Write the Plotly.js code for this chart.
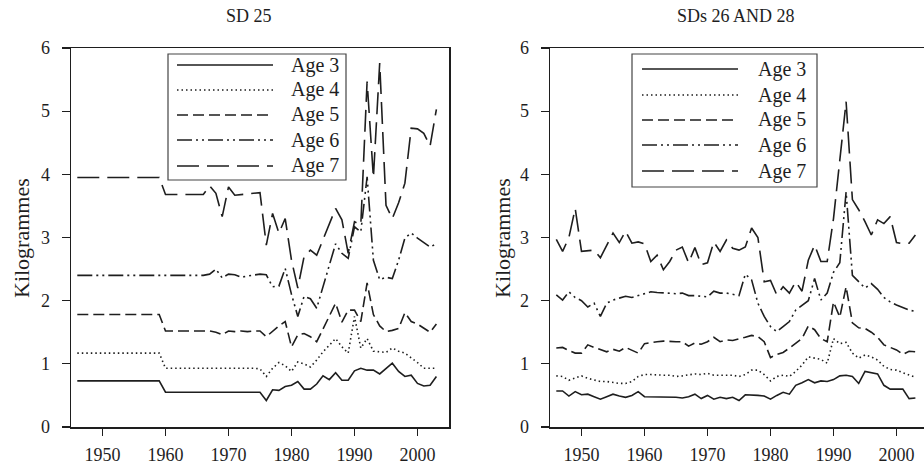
<!DOCTYPE html>
<html>
<head>
<meta charset="utf-8">
<script src="https://cdn.plot.ly/plotly-3.0.1.min.js"></script>
<style>
html,body{margin:0;padding:0;background:#fff;}
#chart{width:924px;height:470px;}
#chart svg text{font-family:"Liberation Serif","Times New Roman",Times,serif !important;}
</style>
</head>
<body>
<div id="chart"></div>
<script>
const years = [1946,1947,1948,1949,1950,1951,1952,1953,1954,1955,1956,1957,1958,1959,
  1960,1961,1962,1963,1964,1965,1966,1967,1968,1969,1970,1971,1972,1973,1974,1975,
  1976,1977,1978,1979,1980,1981,1982,1983,1984,1985,1986,1987,1988,1989,1990,1991,
  1992,1993,1994,1995,1996,1997,1998,1999,2000,2001,2002,2003];

const seriesNames = ["Age 3","Age 4","Age 5","Age 6","Age 7"];
const panelTitles = ["SD 25","SDs 26 AND 28"];
const yTitle = "Kilogrammes";
const xTicks = [1950,1960,1970,1980,1990,2000];
const yTicks = [0,1,2,3,4,5,6];

// SD 25
const sd25_age3 = [0.73,0.73,0.73,0.73,0.73,0.73,0.73,0.73,0.73,0.73,0.73,0.73,0.73,0.73,
  0.55,0.55,0.55,0.55,0.55,0.55,0.56,0.55,0.55,0.55,0.55,0.55,0.55,0.55,0.55,0.55,
  0.42,0.59,0.58,0.64,0.66,0.72,0.6,0.6,0.68,0.81,0.75,0.86,0.74,0.74,0.89,0.93,0.9,0.9,0.84,0.92,1.01,0.88,0.8,0.82,0.69,0.65,0.66,0.8];
const sd25_age4 = [1.17,1.17,1.17,1.17,1.17,1.17,1.17,1.17,1.17,1.17,1.17,1.17,1.17,1.17,
  0.93,0.93,0.93,0.93,0.93,0.93,0.93,0.93,0.93,0.93,0.94,0.94,0.93,0.93,0.93,0.92,
  0.8,0.93,1.02,0.97,0.88,1.03,1.0,0.95,1.06,1.19,1.3,1.4,1.27,1.17,1.75,1.25,1.4,1.2,1.19,1.18,1.25,1.2,1.17,1.1,1.02,0.93,0.93,0.93];
const sd25_age5 = [1.78,1.78,1.78,1.78,1.78,1.78,1.78,1.78,1.78,1.78,1.78,1.78,1.78,1.78,
  1.52,1.52,1.52,1.52,1.52,1.52,1.52,1.52,1.5,1.46,1.52,1.51,1.52,1.51,1.52,1.52,
  1.43,1.52,1.6,1.67,1.27,1.46,1.48,1.43,1.35,1.55,1.75,1.96,1.66,1.85,1.85,1.67,2.28,1.78,1.6,1.51,1.53,1.56,1.81,1.67,1.63,1.57,1.5,1.63];
const sd25_age6 = [2.4,2.4,2.4,2.4,2.4,2.4,2.4,2.4,2.4,2.4,2.4,2.4,2.4,2.4,2.4,2.4,2.4,2.4,2.4,2.4,2.4,
  2.42,2.5,2.36,2.42,2.41,2.37,2.39,2.41,2.42,2.41,
  2.22,2.23,2.51,2.1,1.75,2.07,2.03,1.88,2.22,2.55,2.9,2.75,2.67,3.17,3.09,3.96,2.64,2.33,2.37,2.35,2.64,2.99,3.07,2.99,2.92,2.85,2.9];
const sd25_age7 = [3.95,3.95,3.95,3.95,3.95,3.95,3.95,3.95,3.95,3.95,3.95,3.95,3.95,3.95,
  3.68,3.68,3.68,3.68,3.68,3.68,3.68,3.82,3.7,3.33,3.8,3.67,3.68,3.69,3.7,3.71,
  2.88,3.38,3.07,3.3,2.64,2.2,2.7,2.8,2.72,2.96,3.2,3.46,3.28,2.75,3.25,3.2,5.47,3.95,5.76,3.51,3.3,3.55,3.86,4.73,4.72,4.65,4.45,5.03];

// SDs 26 and 28
const sd2628_age3 = [0.57,0.57,0.49,0.56,0.51,0.52,0.48,0.44,0.48,0.52,0.49,0.47,0.5,0.56,
  0.48,0.48,0.47,0.48,0.48,0.47,0.46,0.48,0.52,0.45,
  0.5,0.44,0.47,0.45,0.47,0.42,0.51,0.51,0.5,0.49,
  0.44,0.5,0.55,0.52,0.66,0.7,0.75,0.7,0.73,0.72,
  0.75,0.81,0.82,0.8,0.69,0.88,0.86,0.84,0.66,0.6,
  0.6,0.6,0.45,0.46];
const sd2628_age4 = [0.81,0.8,0.74,0.78,0.81,0.77,0.74,0.72,0.72,0.7,0.69,0.69,0.72,0.8,
  0.83,0.83,0.82,0.82,0.82,0.8,0.81,0.83,0.84,0.83,
  0.85,0.82,0.82,0.81,0.82,0.8,0.83,0.9,0.9,0.83,
  0.73,0.8,0.82,0.8,0.88,0.98,1.11,1.09,1.07,1.01,
  1.4,1.32,1.34,1.17,1.09,1.14,1.11,1.06,0.96,0.91,
  0.9,0.86,0.82,0.79];
const sd2628_age5 = [1.25,1.26,1.21,1.17,1.17,1.3,1.26,1.22,1.19,1.23,1.2,1.26,1.22,1.17,
  1.32,1.34,1.35,1.36,1.35,1.35,1.35,1.28,1.33,1.31,
  1.35,1.42,1.35,1.38,1.37,1.39,1.42,1.45,1.43,1.35,
  1.1,1.15,1.18,1.25,1.32,1.4,1.6,1.54,1.4,1.35,
  1.98,1.74,2.22,1.65,1.57,1.56,1.5,1.42,1.3,1.26,
  1.22,1.15,1.2,1.19];
const sd2628_age6 = [2.09,2.01,2.14,2.05,2.0,1.9,1.96,1.75,1.96,2.01,2.04,2.07,2.05,2.08,
  2.12,2.14,2.13,2.12,2.11,2.11,2.12,2.08,2.08,2.07,
  2.06,2.15,2.12,2.12,2.1,2.08,2.42,2.33,1.96,1.75,
  1.59,1.51,1.59,1.67,1.85,1.93,2.0,2.35,2.01,2.12,
  2.45,2.6,3.72,2.4,2.3,2.2,2.27,2.18,2.05,1.98,
  1.93,1.89,1.85,1.83];
const sd2628_age7 = [2.97,2.78,3.0,3.46,2.78,2.79,2.8,2.68,2.88,3.07,2.92,3.1,2.91,2.93,
  2.9,2.62,2.72,2.49,2.62,2.8,2.85,2.6,2.84,2.57,
  2.6,2.93,2.78,2.96,2.83,2.8,2.85,3.15,3.0,2.3,
  2.32,2.09,2.22,2.12,2.3,2.15,2.64,2.88,2.62,2.62,
  3.3,4.2,5.15,3.6,3.44,3.25,3.04,3.28,3.22,3.33,
  2.92,2.9,2.91,3.04];

const W = 924, H = 470;
const px = v => v / W;
const py = v => 1 - v / H;
const ink = "#1e1e1e";
const serif = "Liberation Serif";
const dashes = ["solid", "1.5px,3px", "11px,5px", "15px,4px,2px,4px,2px,4px", "22px,8px"];
const lw = 1.6;

const panels = [
  {series:[sd25_age3,sd25_age4,sd25_age5,sd25_age6,sd25_age7], xa:"x", ya:"y"},
  {series:[sd2628_age3,sd2628_age4,sd2628_age5,sd2628_age6,sd2628_age7], xa:"x2", ya:"y2"}
];

const traces = [];
panels.forEach(p => {
  p.series.forEach((vals, i) => {
    traces.push({
      type:"scatter", mode:"lines", x:years, y:vals, name:seriesNames[i],
      xaxis:p.xa, yaxis:p.ya, showlegend:false,
      line:{color:ink, width:lw, dash:dashes[i]}
    });
  });
});

const yDom = [py(427), py(48)];
function xAxis(dom, range){
  return {domain:dom, range:range, tickvals:xTicks, ticks:"outside", ticklen:7, tickwidth:1.3,
    tickcolor:ink, showline:true, linecolor:ink, linewidth:1.5, mirror:true, showgrid:false,
    zeroline:false, tickfont:{family:serif, size:18, color:ink}, ticklabelstandoff:4, fixedrange:true};
}
function yAxis(dom, anchor){
  return {domain:dom, range:[0,6], tickvals:yTicks, ticks:"outside", ticklen:8, tickwidth:1.3,
    tickcolor:ink, showline:true, linecolor:ink, linewidth:1.5, mirror:true, showgrid:false,
    zeroline:false, tickfont:{family:serif, size:18, color:ink}, ticklabelstandoff:8, anchor:anchor, fixedrange:true};
}

const shapes = [];
const annotations = [];
annotations.push({text:panelTitles[0], x:px(249), y:py(16), xref:"paper", yref:"paper", showarrow:false,
  xanchor:"center", yanchor:"middle", font:{family:serif, size:18, color:ink}});
annotations.push({text:panelTitles[1], x:px(736), y:py(16), xref:"paper", yref:"paper", showarrow:false,
  xanchor:"center", yanchor:"middle", font:{family:serif, size:18, color:ink}});
[22, 503].forEach(xp => annotations.push({text:yTitle, x:px(xp), y:py(238), xref:"paper", yref:"paper",
  showarrow:false, textangle:-90, xanchor:"center", yanchor:"middle", font:{family:serif, size:22, color:ink}}));

const legends = [
  {box:[168,54,346,180], line:[177,273], text:289, rows:[65,90,115,140,166]},
  {box:[632,54,817,187], line:[642,738], text:756, rows:[69,95,120,145,171]}
];
legends.forEach(L => {
  shapes.push({type:"rect", xref:"paper", yref:"paper", x0:px(L.box[0]), x1:px(L.box[2]),
    y0:py(L.box[3]), y1:py(L.box[1]), line:{color:"#444", width:1.2}, fillcolor:"white", layer:"above"});
  L.rows.forEach((r, i) => {
    shapes.push({type:"line", xref:"paper", yref:"paper", x0:px(L.line[0]), x1:px(L.line[1]),
      y0:py(r), y1:py(r), line:{color:ink, width:lw, dash:dashes[i]}, layer:"above"});
    annotations.push({text:seriesNames[i], x:px(L.text), y:py(r), xref:"paper", yref:"paper",
      showarrow:false, xanchor:"left", yanchor:"middle", font:{family:serif, size:20, color:ink}});
  });
});

const layout = {
  width:W, height:H, margin:{l:0, r:0, t:0, b:0},
  paper_bgcolor:"white", plot_bgcolor:"white", showlegend:false,
  font:{family:serif, color:ink},
  xaxis: xAxis([px(71), px(449)], [1945, 2005]),
  yaxis: yAxis(yDom, "x"),
  xaxis2: xAxis([px(550), 1], [1945, 1945 + (924-550)/6.3]),
  yaxis2: yAxis(yDom, "x2"),
  shapes:shapes, annotations:annotations
};
layout.xaxis.anchor = "y";
layout.xaxis2.anchor = "y2";

Plotly.newPlot("chart", traces, layout, {displayModeBar:false, staticPlot:true});
</script>
</body>
</html>
